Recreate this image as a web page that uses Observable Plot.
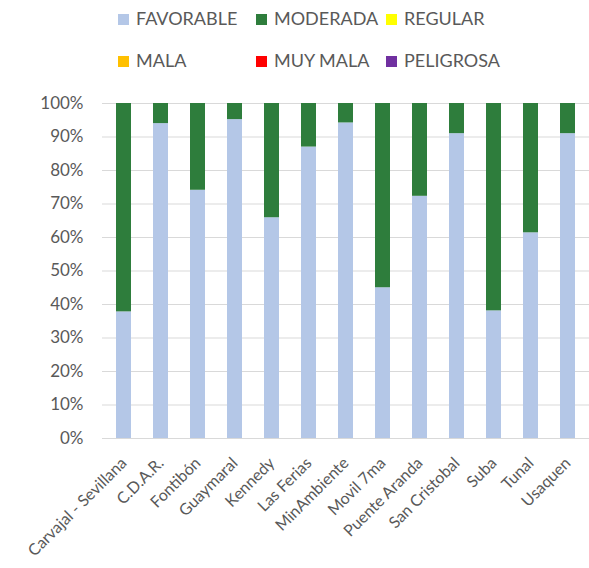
<!DOCTYPE html>
<html><head><meta charset="utf-8">
<script src="https://cdn.jsdelivr.net/npm/d3@7"></script>
<script src="https://cdn.jsdelivr.net/npm/@observablehq/plot@0.6"></script>
<style>
body{margin:0;background:#fff;font-family:Lato,"DejaVu Sans",sans-serif;}
#wrap{position:relative;width:589px;height:568px;overflow:hidden;}
#legend{position:absolute;left:0;top:0;width:589px;height:90px;}
.li{position:absolute;font-size:18px;color:#595959;white-space:nowrap;line-height:20px;}
.sw{display:inline-block;width:11px;height:11px;margin-right:7px;vertical-align:0px;}
#chart{position:absolute;left:0;top:90px;}
</style></head>
<body><div id="wrap"><div id="legend"></div><div id="chart"></div></div>
<script>
const stations = ["Carvajal - Sevillana","C.D.A.R.","Fontibón","Guaymaral","Kennedy","Las Ferias","MinAmbiente","Movil 7ma","Puente Aranda","San Cristobal","Suba","Tunal","Usaquen"];
const favorable = [37.8,94.0,74.1,95.2,65.9,87.0,94.2,45.0,72.3,91.0,38.1,61.4,91.0];
const moderada = favorable.map(v => +(100 - v).toFixed(1));
const categories = ["FAVORABLE","MODERADA","REGULAR","MALA","MUY MALA","PELIGROSA"];
const colors = ["#b4c7e7","#2e7d3c","#ffff00","#ffc000","#ff0000","#7030a0"];
const yTicks = [0,10,20,30,40,50,60,70,80,90,100];

const legendPos = [[118,8],[256,8],[386,8],[118,50],[256,50],[386,50]];
const leg = document.getElementById("legend");
categories.forEach((c,i)=>{
  const d = document.createElement("div");
  d.className="li";
  d.style.left = legendPos[i][0]+"px";
  d.style.top = legendPos[i][1]+"px";
  d.innerHTML = `<span class="sw" style="background:${colors[i]}"></span>${c}`;
  leg.appendChild(d);
});

const data = [];
stations.forEach((s,i)=>{
  data.push({station:s, cat:"FAVORABLE", value:favorable[i]});
  data.push({station:s, cat:"MODERADA", value:moderada[i]});
});

const chart = Plot.plot({
  width:589, height:478,
  marginTop:13, marginBottom:130, marginLeft:102, marginRight:0,
  style:{fontFamily:"Lato, sans-serif", color:"#595959", background:"transparent"},
  x:{domain:stations, paddingInner:0.6, paddingOuter:0.3, label:null},
  y:{domain:[0,100], label:null},
  color:{domain:categories, range:colors},
  marks:[
    Plot.gridY(yTicks,{stroke:"#d9d9d9", strokeOpacity:1, strokeWidth:1}),
    Plot.barY(data, Plot.stackY({x:"station", y:"value", fill:"cat", order:categories})),
    Plot.axisY(yTicks,{tickSize:0, tickPadding:19, tickFormat:d=>d+"%", fontSize:17, fill:"#595959"}),
    Plot.axisX({tickSize:0, tickPadding:10, tickRotate:-45, fontSize:16, fill:"#595959", dx:0, dy:12})
  ]
});
document.getElementById("chart").appendChild(chart);
</script></body></html>
